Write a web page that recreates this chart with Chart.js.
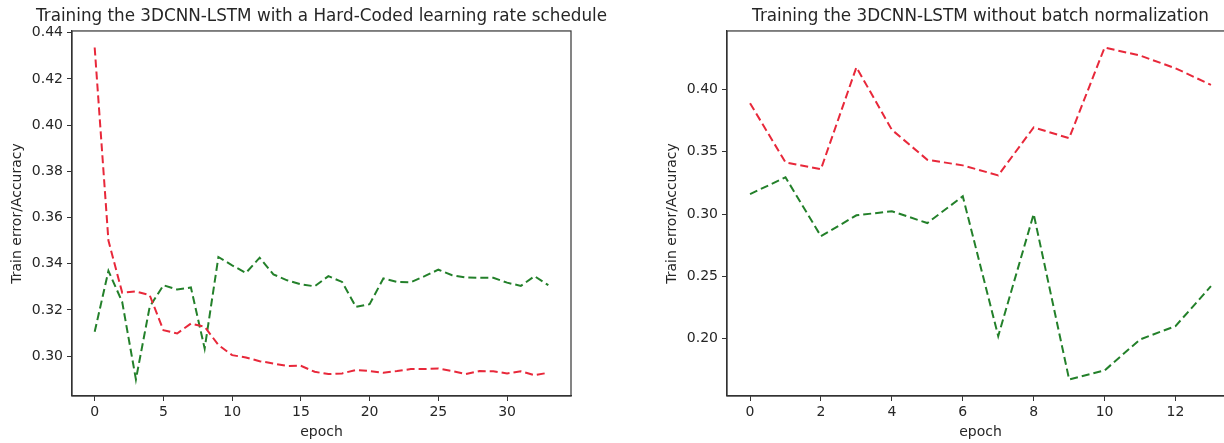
<!DOCTYPE html>
<html>
<head>
<meta charset="utf-8">
<script src="https://cdn.jsdelivr.net/npm/chart.js@4"></script>
<style>
  html, body { margin: 0; padding: 0; background: #fff; overflow: hidden; }
  body { width: 1224px; height: 443px; position: relative; }
  .box { position: absolute; top: 0; height: 443px; }
  #leftBox { left: 0; width: 643px; }
  #rightBox { left: 640px; width: 681px; }
</style>
</head>
<body>
<div class="box" id="leftBox"><canvas id="chartLeft"></canvas></div>
<div class="box" id="rightBox"><canvas id="chartRight"></canvas></div>
<script>
// left panel: hard-coded learning rate schedule, epochs 0..33
const leftEpochs = Array.from({length: 34}, (_, i) => i);
const leftRed = [0.4336, 0.350, 0.3275, 0.328, 0.3264, 0.3112, 0.3098, 0.3141, 0.3127, 0.3048,
  0.3004, 0.2994, 0.2978, 0.2968, 0.2957, 0.2958, 0.2932, 0.2922, 0.2925, 0.294,
  0.2935, 0.2928, 0.2935, 0.2944, 0.2944, 0.2946, 0.2935, 0.2922, 0.2935, 0.2934,
  0.2925, 0.2934, 0.2917, 0.2928];
const leftGreen = [0.3105, 0.3369, 0.3235, 0.2899, 0.3213, 0.3307, 0.3288, 0.3297, 0.3033, 0.3429,
  0.3393, 0.336, 0.3426, 0.3354, 0.3328, 0.3311, 0.3302, 0.3346, 0.3321, 0.3213,
  0.3225, 0.3336, 0.3321, 0.332, 0.3346, 0.3374, 0.335, 0.334, 0.3339, 0.3339,
  0.3318, 0.3304, 0.3346, 0.3307];
const leftXTicks = [0, 5, 10, 15, 20, 25, 30];
const leftYTicks = [0.30, 0.32, 0.34, 0.36, 0.38, 0.40, 0.42, 0.44];

// right panel: without batch normalization, epochs 0..13
const rightEpochs = Array.from({length: 14}, (_, i) => i);
const rightRed = [0.3888, 0.3414, 0.336, 0.4176, 0.3675, 0.3435, 0.339, 0.331, 0.3694, 0.3608,
  0.4334, 0.427, 0.4168, 0.4035];
const rightGreen = [0.316, 0.3294, 0.2822, 0.299, 0.3022, 0.2928, 0.3142, 0.2022, 0.30, 0.1675,
  0.1747, 0.1995, 0.2102, 0.2422];
const rightXTicks = [0, 2, 4, 6, 8, 10, 12];
const rightYTicks = [0.20, 0.25, 0.30, 0.35, 0.40];

const textColor = '#262626';
const spineColor = '#333';
const redColor = '#e8283a';
const greenColor = '#23802a';

// full box around the plot, like matplotlib spines
const frame = {
  id: 'frame',
  afterDraw(chart) {
    const {ctx, chartArea: a} = chart;
    ctx.save();
    ctx.strokeStyle = spineColor;
    ctx.lineWidth = 1.2;
    ctx.strokeRect(a.left, a.top, a.right - a.left, a.bottom - a.top);
    ctx.restore();
  }
};

function margin(vals) {
  const lo = Math.min(...vals), hi = Math.max(...vals);
  const m = (hi - lo) * 0.05;
  return [lo - m, hi + m];
}

// yAxisW = left axis width, spacerW = empty right axis so the title centres over the plot
function makeChart(id, title, xs, red, green, xTicks, yTicks, yAxisW, spacerW, titlePad) {
  const [xMin, xMax] = margin(xs);
  const [yMin, yMax] = margin(red.concat(green));
  const series = (vals, color) => ({
    data: xs.map((x, i) => ({x: x, y: vals[i]})),
    borderColor: color,
    borderWidth: 2,
    borderDash: [8, 4],
    pointRadius: 0,
    tension: 0,
    fill: false
  });
  return new Chart(document.getElementById(id), {
    type: 'line',
    data: { datasets: [series(red, redColor), series(green, greenColor)] },
    plugins: [frame],
    options: {
      responsive: true,
      maintainAspectRatio: false,
      animation: false,
      layout: { padding: 0 },
      plugins: {
        legend: { display: false },
        tooltip: { enabled: false },
        title: {
          display: true,
          text: title,
          color: textColor,
          font: { family: 'DejaVu Sans', size: 16.8, weight: 'normal' },
          padding: { top: 7, bottom: 3.8 }
        }
      },
      scales: {
        x: {
          type: 'linear',
          min: xMin,
          max: xMax,
          afterBuildTicks: s => { s.ticks = xTicks.map(v => ({value: v})); },
          afterFit: s => { s.height = 47; },
          grid: { display: true, drawOnChartArea: false, drawTicks: true, tickLength: 5, color: spineColor },
          border: { display: true, color: spineColor, width: 1.2 },
          ticks: { color: textColor, font: { family: 'DejaVu Sans', size: 14 }, padding: 3, maxRotation: 0,
            callback: v => String(v) },
          title: { display: true, text: 'epoch', color: textColor,
            font: { family: 'DejaVu Sans', size: 14 }, padding: { top: 0, bottom: 2 } }
        },
        y: {
          min: yMin,
          max: yMax,
          afterBuildTicks: s => { s.ticks = yTicks.map(v => ({value: v})); },
          afterFit: s => { s.width = yAxisW; },
          grid: { display: true, drawOnChartArea: false, drawTicks: true, tickLength: 5, color: spineColor },
          border: { display: true, color: spineColor, width: 1.2 },
          ticks: { color: textColor, font: { family: 'DejaVu Sans', size: 14 }, padding: 4,
            callback: v => v.toFixed(2) },
          title: { display: true, text: 'Train error/Accuracy', color: textColor,
            font: { family: 'DejaVu Sans', size: 14 }, padding: { top: titlePad - 0.5, bottom: 0 } }
        },
        spacer: {
          type: 'linear',
          position: 'right',
          min: 0,
          max: 1,
          afterFit: s => { s.width = spacerW; },
          grid: { display: false },
          border: { display: false },
          ticks: { display: false }
        }
      }
    }
  });
}

makeChart('chartLeft', 'Training the 3DCNN-LSTM with a Hard-Coded learning rate schedule',
  leftEpochs, leftRed, leftGreen, leftXTicks, leftYTicks, 72, 72, 9);
makeChart('chartRight', 'Training the 3DCNN-LSTM without batch normalization',
  rightEpochs, rightRed, rightGreen, rightXTicks, rightYTicks, 87, 87, 24);
</script>
</body>
</html>
